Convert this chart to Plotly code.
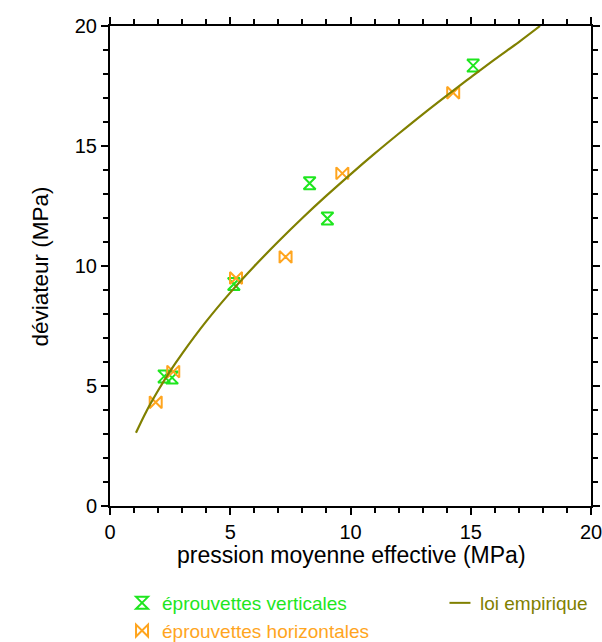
import plotly.graph_objects as go

# Data
vert_x = [2.25, 2.58, 5.15, 8.30, 9.04, 15.10]
vert_y = [5.40, 5.35, 9.25, 13.45, 11.98, 18.35]

horiz_x = [1.90, 2.63, 5.24, 7.30, 9.66, 14.27]
horiz_y = [4.32, 5.60, 9.50, 10.38, 13.86, 17.22]

loi_x = [1.08, 1.5, 2.0, 2.5, 3.0, 4.0, 5.0, 6.0, 7.0, 8.0, 9.0, 10.0,
         11.0, 12.0, 13.0, 14.0, 15.0, 16.0, 17.0, 17.88]
loi_y = [3.05, 3.92, 4.81, 5.62, 6.35, 7.69, 8.89, 9.99, 11.02, 12.00, 12.93, 13.82,
         14.68, 15.51, 16.32, 17.10, 17.86, 18.61, 19.33, 20.00]

x_ticks = [0, 5, 10, 15, 20]
y_ticks = [0, 5, 10, 15, 20]

GREEN = "#1ee61e"
ORANGE = "#ffa51e"
OLIVE = "#808000"
FONT = "Liberation Sans, Arial, sans-serif"

fig = go.Figure()
fig.add_trace(go.Scatter(
    x=vert_x, y=vert_y, mode="markers",
    name=f"<span style='color:{GREEN}'>éprouvettes verticales</span>",
    marker=dict(symbol="hourglass-open", size=12, color=GREEN, line=dict(width=2, color=GREEN)),
    legend="legend",
))
fig.add_trace(go.Scatter(
    x=horiz_x, y=horiz_y, mode="markers",
    name=f"<span style='color:{ORANGE}'>éprouvettes horizontales</span>",
    marker=dict(symbol="bowtie-open", size=12, color=ORANGE, line=dict(width=2, color=ORANGE)),
    legend="legend",
))
fig.add_trace(go.Scatter(
    x=loi_x, y=loi_y, mode="lines",
    line=dict(color=OLIVE, width=2.2, shape="spline"),
    showlegend=False,
))
# legend entry with a short line symbol
fig.add_trace(go.Scatter(
    x=[None], y=[None], mode="markers",
    name=f"<span style='color:{OLIVE}'>loi empirique</span>",
    marker=dict(symbol="line-ew-open", size=15, color=OLIVE, line=dict(width=2, color=OLIVE)),
    legend="legend2",
))

axis_common = dict(
    showline=True, linecolor="black", linewidth=2, mirror="ticks",
    ticks="outside", ticklen=7, tickwidth=2, tickcolor="black",
    showgrid=False, zeroline=False, automargin=False, ticklabeloverflow="allow",
    tickfont=dict(family=FONT, size=20, color="black"),
    minor=dict(ticks="outside", ticklen=5, tickwidth=2, dtick=1, tickcolor="black", showgrid=False),
)

fig.update_xaxes(range=[0, 20], tickvals=x_ticks, ticktext=[str(v) for v in x_ticks], **axis_common)
fig.update_yaxes(range=[0, 20], tickvals=y_ticks, ticktext=[str(v) for v in y_ticks], **axis_common)

fig.add_annotation(text="pression moyenne effective (MPa)", xref="paper", yref="paper",
                   x=0.502, y=-0.102, xanchor="center", yanchor="middle", showarrow=False,
                   font=dict(family=FONT, size=23, color="black"))
fig.add_annotation(text="déviateur (MPa)", xref="paper", yref="paper",
                   x=-0.1455, y=0.499, xanchor="center", yanchor="middle", showarrow=False,
                   textangle=-90, font=dict(family=FONT, size=22.5, color="black"))

fig.update_layout(
    width=602, height=642,
    margin=dict(l=110, r=11, t=26, b=136, autoexpand=False),
    plot_bgcolor="white", paper_bgcolor="white",
    font=dict(family=FONT),
    legend=dict(x=0.025, y=-0.1625, xanchor="left", yanchor="top", orientation="v",
                font=dict(family=FONT, size=19), tracegroupgap=0, itemwidth=30,
                bgcolor="rgba(0,0,0,0)"),
    legend2=dict(x=0.686, y=-0.1625, xanchor="left", yanchor="top",
                 font=dict(family=FONT, size=19), itemwidth=30,
                 bgcolor="rgba(0,0,0,0)"),
)

fig.write_html("out.html", config={"displayModeBar": False},
               post_script="document.body.style.margin='0px';")
